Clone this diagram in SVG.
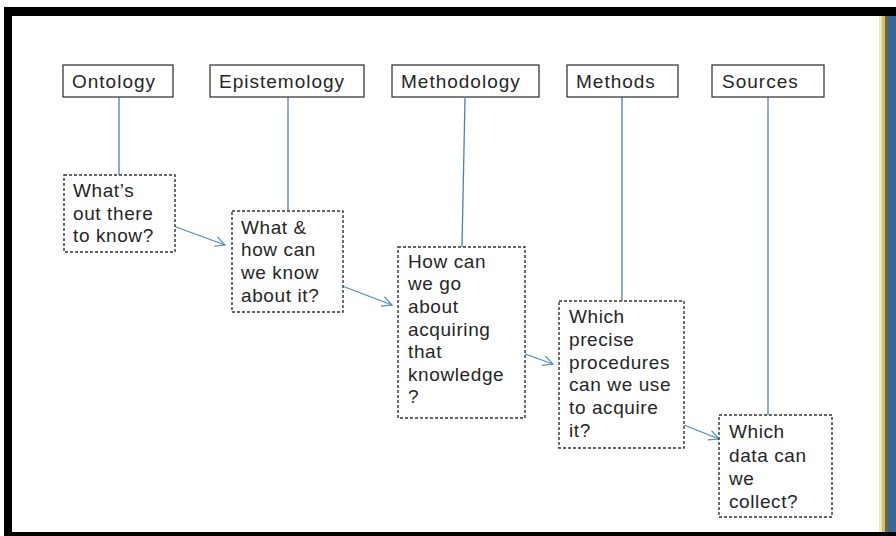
<svg xmlns="http://www.w3.org/2000/svg" width="896" height="536" viewBox="0 0 896 536">
<style>
.bg{fill:#ffffff}
.lbl{fill:#ffffff;stroke:#3a3a3a;stroke-width:1.3}
.q{fill:#ffffff;stroke:#333;stroke-width:1.4;stroke-dasharray:3 2}
.t{font-family:"Liberation Sans",Arial,sans-serif;fill:#262626}
.th{font-size:19px;letter-spacing:1px}
.tq{font-size:19px;letter-spacing:0.6px}
.vl{stroke:#4f81a8;stroke-width:1.3;fill:none}
.ar{stroke:#4f8ec0;stroke-width:1.3;fill:none}
</style>
<defs>
<marker id="ah" viewBox="0 0 12 12" refX="11" refY="6" markerWidth="12" markerHeight="12" markerUnits="userSpaceOnUse" orient="auto">
<path d="M1,1 L11,6 L1,11" fill="none" stroke="#4f8ec0" stroke-width="1.2"/>
</marker>
</defs>
<rect x="0" y="0" width="896" height="536" class="bg"/>
<!-- frame -->
<rect x="4" y="7" width="892" height="9" fill="#000"/>
<rect x="4" y="7" width="8" height="529" fill="#000"/>
<rect x="4" y="532" width="892" height="4" fill="#000"/>
<rect x="879" y="16" width="3" height="516" fill="#f3e6b0"/>
<rect x="882" y="16" width="3" height="516" fill="#d9bf6a"/>
<rect x="885" y="16" width="3" height="516" fill="#5e6a4e"/>
<rect x="888" y="16" width="8" height="516" fill="#3a6597"/>

<g id="connectors">
<line class="vl" x1="119" y1="97" x2="119" y2="175"/>
<line class="vl" x1="288" y1="97" x2="288" y2="211"/>
<line class="vl" x1="465" y1="98" x2="462" y2="247"/>
<line class="vl" x1="622" y1="97" x2="622" y2="301"/>
<line class="vl" x1="768" y1="97" x2="768" y2="415"/>
<line class="ar" x1="168" y1="224" x2="225" y2="245" marker-end="url(#ah)"/>
<line class="ar" x1="337" y1="284" x2="392" y2="305" marker-end="url(#ah)"/>
<line class="ar" x1="497" y1="344" x2="553" y2="364" marker-end="url(#ah)"/>
<line class="ar" x1="664" y1="417" x2="719" y2="439" marker-end="url(#ah)"/>
</g>

<g id="ontology">
<rect class="lbl" x="63" y="65" width="110" height="32"/>
<text class="t th" x="72" y="88">Ontology</text>
</g>
<g id="epistemology">
<rect class="lbl" x="210" y="65" width="154" height="32"/>
<text class="t th" x="219" y="88">Epistemology</text>
</g>
<g id="methodology">
<rect class="lbl" x="392" y="65" width="147" height="32"/>
<text class="t th" x="401" y="88">Methodology</text>
</g>
<g id="methods">
<rect class="lbl" x="567" y="65" width="111" height="32"/>
<text class="t th" x="576" y="88">Methods</text>
</g>
<g id="sources">
<rect class="lbl" x="712" y="65" width="112" height="32"/>
<text class="t th" x="722" y="88">Sources</text>
</g>

<g id="q-ontology">
<rect class="q" x="64" y="175" width="111" height="77"/>
<text class="t tq" x="73" y="197">What’s</text>
<text class="t tq" x="73" y="220">out there</text>
<text class="t tq" x="73" y="242">to know?</text>
</g>
<g id="q-epistemology">
<rect class="q" x="232" y="211" width="111" height="101"/>
<text class="t tq" x="241" y="234">What &amp;</text>
<text class="t tq" x="241" y="256">how can</text>
<text class="t tq" x="241" y="279">we know</text>
<text class="t tq" x="241" y="302">about it?</text>
</g>
<g id="q-methodology">
<rect class="q" x="398" y="247" width="127" height="171"/>
<text class="t tq" x="408" y="268">How can</text>
<text class="t tq" x="408" y="290">we go</text>
<text class="t tq" x="408" y="313">about</text>
<text class="t tq" x="408" y="336">acquiring</text>
<text class="t tq" x="408" y="358">that</text>
<text class="t tq" x="408" y="381">knowledge</text>
<text class="t tq" x="408" y="403">?</text>
</g>
<g id="q-methods">
<rect class="q" x="559" y="301" width="125" height="147"/>
<text class="t tq" x="569" y="323">Which</text>
<text class="t tq" x="569" y="346">precise</text>
<text class="t tq" x="569" y="369">procedures</text>
<text class="t tq" x="569" y="391">can we use</text>
<text class="t tq" x="569" y="414">to acquire</text>
<text class="t tq" x="569" y="437">it?</text>
</g>
<g id="q-sources">
<rect class="q" x="719" y="415" width="113" height="102"/>
<text class="t tq" x="729" y="438">Which</text>
<text class="t tq" x="729" y="462">data can</text>
<text class="t tq" x="729" y="485">we</text>
<text class="t tq" x="729" y="508">collect?</text>
</g>
</svg>
